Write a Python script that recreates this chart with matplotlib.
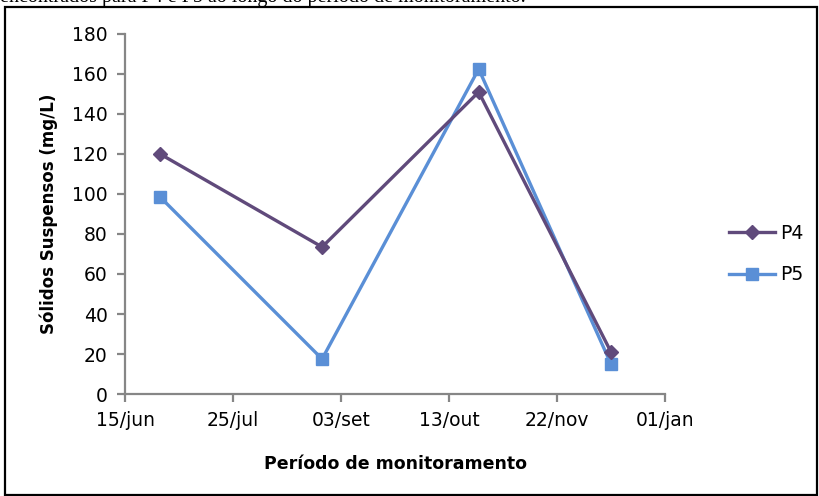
import matplotlib
matplotlib.use("Agg")
import matplotlib.pyplot as plt
from matplotlib.patches import Rectangle
import datetime as dt

# Data
dates = ["2011-06-28", "2011-08-27", "2011-10-24", "2011-12-12"]
p4 = [120, 73.5, 151, 21]
p5 = [98.5, 17.5, 162.5, 15]
series_names = ["P4", "P5"]
tick_labels = ["15/jun", "25/jul", "03/set", "13/out", "22/nov", "01/jan"]
tick_dates = ["2011-06-15", "2011-07-25", "2011-09-03", "2011-10-13", "2011-11-22", "2012-01-01"]

x = [dt.datetime.strptime(d, "%Y-%m-%d") for d in dates]
xt = [dt.datetime.strptime(d, "%Y-%m-%d") for d in tick_dates]

W, H = 819, 496
fig = plt.figure(figsize=(W/100, H/100), dpi=100)
fam = ["DejaVu Sans"]

ax = fig.add_axes([125/W, 1-394/H, (665-125)/W, (394-34)/H])
c4 = "#604A7B"
c5 = "#5A8FD6"
ax.plot(x, p4, color=c4, lw=2.4, marker="D", ms=7, label=series_names[0], zorder=3)
ax.plot(x, p5, color=c5, lw=2.4, marker="s", ms=9, label=series_names[1], zorder=2)

ax.set_xlim(xt[0], xt[-1])
ax.set_ylim(0, 180)
ax.set_yticks(range(0, 181, 20))
ax.set_xticks(xt)
ax.set_xticklabels(tick_labels)
for s in ["top", "right"]:
    ax.spines[s].set_visible(False)
for s in ["left", "bottom"]:
    ax.spines[s].set_color("#868686")
    ax.spines[s].set_linewidth(1.6)
ax.tick_params(axis="both", direction="out", length=5.5, width=1.6, color="#868686",
               labelsize=13.5, pad=7)
for lab in ax.get_xticklabels() + ax.get_yticklabels():
    lab.set_family(fam)
ax.set_ylabel("Sólidos Suspensos (mg/L)", family=fam, fontsize=12, fontweight="bold", labelpad=10)
ax.set_xlabel("Período de monitoramento", family=fam, fontsize=12.5, fontweight="bold", labelpad=18)

leg = fig.legend(loc="center left", bbox_to_anchor=(712/W, 1-254/H), frameon=False,
                 prop={"family": fam, "size": 13.5}, handlelength=2.45, labelspacing=1.2,
                 handletextpad=0.3)

# Figure border and clipped caption text
fig.patches.append(Rectangle((5/W, 1.5/H), (817-5)/W, (489.5-1.5)/H, transform=fig.transFigure,
                             fill=False, edgecolor="black", lw=1.6))
fig.text(0/W, 1-2/H, "encontrados para P4 e P5 ao longo do período de monitoramento.",
         family=["Liberation Serif"], fontsize=14.5, va="baseline", ha="left")

fig.savefig("out.png", dpi=100)
